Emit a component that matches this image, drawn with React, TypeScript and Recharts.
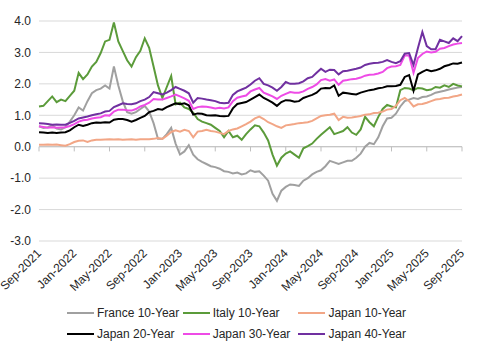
import { LineChart, Line, XAxis, YAxis, CartesianGrid, ReferenceLine } from "recharts";

// month-end labels every 4 months, first tick = Sep-2021
const tickLabels = [
  "Sep-2021", "Jan-2022", "May-2022", "Sep-2022", "Jan-2023", "May-2023", "Sep-2023",
  "Jan-2024", "May-2024", "Sep-2024", "Jan-2025", "May-2025", "Sep-2025",
];
const yTicks = [-3, -2, -1, 0, 1, 2, 3, 4];

// values read twice a month, Sep-2021 .. Sep-2025
const france = [
  0.65, 0.6, 0.62, 0.68, 0.58, 0.55, 0.62, 0.8, 1.0, 1.25,
  1.15, 1.45, 1.7, 1.8, 1.85, 1.95, 1.85, 2.55, 1.95, 1.45,
  1.1, 1.05, 1.1, 1.2, 1.3, 1.12, 0.75, 0.25, 0.25, 0.4,
  0.6, 0.1, -0.25, -0.15, 0.05, -0.25, -0.4, -0.48, -0.55, -0.62,
  -0.65, -0.7, -0.78, -0.8, -0.85, -0.82, -0.88, -0.85, -0.75, -0.8,
  -0.78, -0.92, -1.08, -1.5, -1.72, -1.4, -1.28, -1.2, -1.22, -1.25,
  -1.08, -1.0, -0.88, -0.8, -0.75, -0.62, -0.45, -0.5, -0.55, -0.5,
  -0.45, -0.45, -0.35, -0.22, 0.0, 0.12, 0.08, 0.3, 0.65, 0.9,
  0.92, 1.05, 1.28, 1.45, 1.5, 1.55, 1.52, 1.58, 1.6, 1.65,
  1.72, 1.75, 1.78, 1.82, 1.85, 1.88, 1.9,
];
const italy = [
  1.28, 1.3, 1.45, 1.6, 1.42, 1.5, 1.45, 1.62, 1.78, 2.35,
  2.15, 2.3, 2.55, 2.7, 2.98, 3.35, 3.4, 3.95, 3.35, 3.05,
  2.75, 2.55, 2.85, 3.05, 3.45, 3.15, 2.55, 1.95, 1.55, 1.9,
  2.25, 1.35, 1.4, 1.25, 1.2, 1.08, 0.88, 0.8, 0.75, 0.7,
  0.6, 0.5, 0.3, 0.5, 0.3, 0.35, 0.22, 0.4, 0.55, 0.68,
  0.65, 0.45, 0.2, -0.25, -0.6, -0.35, -0.22, -0.15, -0.25, -0.35,
  -0.05, 0.02, 0.1, 0.25, 0.38, 0.5, 0.62, 0.4, 0.45, 0.5,
  0.62, 0.45, 0.38, 0.55, 0.95, 0.78, 0.65, 0.95, 1.2, 1.33,
  1.28, 1.25, 1.8, 1.87, 1.85, 1.8, 1.87, 1.85, 1.8, 1.82,
  1.9, 1.88, 1.95, 1.9, 2.0, 1.95, 1.92,
];
const japan10 = [
  0.06, 0.06, 0.07, 0.06, 0.07, 0.05, 0.03, 0.08, 0.15, 0.19,
  0.2, 0.15, 0.2, 0.22, 0.22, 0.23, 0.24, 0.23, 0.24, 0.22,
  0.23, 0.24, 0.22, 0.24, 0.24, 0.24, 0.25, 0.28, 0.25, 0.35,
  0.47, 0.52, 0.48, 0.54, 0.5, 0.3, 0.48, 0.5, 0.54, 0.5,
  0.48, 0.44, 0.4, 0.5, 0.55, 0.58, 0.65, 0.72, 0.8, 0.9,
  0.96, 0.88, 0.78, 0.72, 0.65, 0.6, 0.68, 0.7, 0.72, 0.75,
  0.76, 0.78, 0.82, 0.9, 0.98, 1.0, 1.02, 1.05, 0.85, 0.95,
  0.92, 0.93, 0.95, 0.98, 1.02, 1.03, 1.07, 1.08, 1.12, 1.18,
  1.2, 1.3, 1.48, 1.55, 1.45, 1.28, 1.35, 1.36, 1.4, 1.45,
  1.5, 1.52, 1.55, 1.56, 1.6, 1.62, 1.66,
];
const japan20 = [
  0.46, 0.45, 0.44, 0.45, 0.44, 0.45, 0.46, 0.52, 0.62, 0.7,
  0.66, 0.7, 0.75, 0.77, 0.76, 0.78, 0.77, 0.86, 0.88, 0.88,
  0.85, 0.8, 0.85, 0.92, 0.98, 1.1, 1.14, 1.2, 1.18, 1.26,
  1.32, 1.38, 1.35, 1.38, 1.32, 1.02, 1.06, 1.05, 1.0, 0.99,
  1.0, 0.98, 0.97, 0.98, 1.22, 1.36, 1.39, 1.42, 1.5, 1.58,
  1.66, 1.55, 1.48, 1.4, 1.3, 1.42, 1.48, 1.47, 1.43, 1.45,
  1.55, 1.6, 1.65, 1.72, 1.85, 1.87, 1.86, 1.95, 1.62, 1.72,
  1.7, 1.68, 1.66, 1.72, 1.76, 1.8, 1.82, 1.86, 1.88, 1.92,
  1.92, 1.93, 1.97, 2.22, 2.28, 1.78, 2.3, 2.38, 2.45, 2.4,
  2.43, 2.48, 2.56, 2.6, 2.65, 2.64, 2.68,
];
const japan30 = [
  0.65, 0.63, 0.6, 0.62, 0.6, 0.61, 0.62, 0.66, 0.72, 0.8,
  0.84, 0.86, 0.9, 0.92, 0.94, 1.0, 0.99, 1.12, 1.18, 1.18,
  1.16, 1.15, 1.2, 1.28, 1.33, 1.4, 1.52, 1.5, 1.5, 1.55,
  1.6, 1.66, 1.6, 1.54, 1.46, 1.2, 1.26, 1.28, 1.27, 1.25,
  1.22, 1.24, 1.22, 1.25, 1.45, 1.56, 1.6, 1.63, 1.76, 1.82,
  1.87, 1.72, 1.66, 1.6, 1.52, 1.62, 1.68, 1.74, 1.72, 1.72,
  1.76, 1.84, 1.9, 1.98, 2.12, 2.15, 2.1, 2.14, 1.97, 2.1,
  2.12, 2.15, 2.16, 2.2, 2.26, 2.29, 2.3, 2.33, 2.38, 2.5,
  2.55, 2.56, 2.6, 2.9, 2.9, 2.35, 2.82, 2.95, 3.03, 3.0,
  3.02, 3.12, 3.14, 3.2, 3.25, 3.28, 3.3,
];
const japan40 = [
  0.75, 0.74, 0.72, 0.7, 0.71, 0.7, 0.7, 0.76, 0.82, 0.9,
  0.93, 0.96, 1.0, 1.03, 1.06, 1.12, 1.14, 1.26, 1.32, 1.38,
  1.36, 1.35, 1.38, 1.45, 1.5, 1.58, 1.74, 1.7, 1.66, 1.72,
  1.8, 1.9, 1.84, 1.78, 1.7, 1.4, 1.55, 1.53, 1.5, 1.48,
  1.45, 1.4, 1.38, 1.4, 1.65, 1.76, 1.82, 1.88, 1.98, 2.1,
  2.18, 2.0, 1.95, 1.88, 1.78, 1.9, 2.06, 2.0, 2.0, 2.02,
  2.08, 2.18, 2.22, 2.35, 2.48, 2.38, 2.45, 2.44, 2.3, 2.4,
  2.42, 2.45, 2.48, 2.52, 2.6, 2.64, 2.66, 2.67, 2.7, 2.76,
  2.7, 2.66, 2.72, 2.96, 2.98, 2.6, 3.14, 3.65, 3.2, 3.1,
  3.1, 3.4, 3.35, 3.3, 3.45, 3.36, 3.52,
];

const SERIES = [
  { key: "france", name: "France 10-Year", color: "#A0A0A0" },
  { key: "italy", name: "Italy 10-Year", color: "#5B9B3A" },
  { key: "japan10", name: "Japan 10-Year", color: "#F2A686" },
  { key: "japan20", name: "Japan 20-Year", color: "#000000" },
  { key: "japan30", name: "Japan 30-Year", color: "#EE4BE6" },
  { key: "japan40", name: "Japan 40-Year", color: "#7030A0" },
];

const xTicks = tickLabels.map((_, i) => i * 4);

const data = france.map((v, i) => ({
  t: i / 2,
  france: v,
  italy: italy[i],
  japan10: japan10[i],
  japan20: japan20[i],
  japan30: japan30[i],
  japan40: japan40[i],
}));

const FONT = '"Liberation Sans", Arial, sans-serif';

function DateTick({ x, y, payload }: any) {
  return (
    <g transform={`translate(${x + 3},${y + 5})`}>
      <text textAnchor="end" transform="rotate(-45)" fontSize={12} fill="#262626" fontFamily={FONT}>
        {tickLabels[payload.value / 4]}
      </text>
    </g>
  );
}

export default function App() {
  return (
    <div style={{ position: "absolute", left: 0, top: 0, width: 477, height: 352, fontFamily: FONT, background: "#fff" }}>
      <LineChart width={477} height={352} data={data} margin={{ top: 21, right: 15, bottom: 0, left: 0 }}>
        <CartesianGrid vertical={false} stroke="#D9D9D9" />
        <XAxis
          dataKey="t"
          type="number"
          domain={[0, 48]}
          ticks={xTicks}
          interval={0}
          axisLine={false}
          tickLine={false}
          height={111}
          tick={<DateTick />}
        />
        <YAxis
          domain={[-3, 4]}
          ticks={yTicks}
          interval={0}
          width={39}
          axisLine={false}
          tickLine={false}
          tickFormatter={(v: number) => v.toFixed(1)}
          tick={{ fontSize: 12, fill: "#262626", fontFamily: FONT }}
        />
        <ReferenceLine y={0} stroke="#BFBFBF" strokeWidth={1} />
        {xTicks.map((t) => (
          <ReferenceLine key={t} segment={[{ x: t, y: 0 }, { x: t, y: -0.15 }]} stroke="#BFBFBF" />
        ))}
        {SERIES.map((s) => (
          <Line
            key={s.key}
            type="linear"
            dataKey={s.key}
            name={s.name}
            stroke={s.color}
            strokeWidth={2}
            dot={false}
            isAnimationActive={false}
          />
        ))}
      </LineChart>
      {SERIES.map((s, i) => (
        <div
          key={s.key}
          style={{
            position: "absolute",
            left: 67 + (i % 3) * 115.7,
            top: 305 + Math.floor(i / 3) * 21,
            height: 16,
            display: "flex",
            alignItems: "center",
            fontSize: 12,
            color: "#262626",
            whiteSpace: "nowrap",
          }}
        >
          <span style={{ display: "inline-block", width: 27, height: 2, background: s.color, marginRight: 3 }} />
          {s.name}
        </div>
      ))}
    </div>
  );
}
